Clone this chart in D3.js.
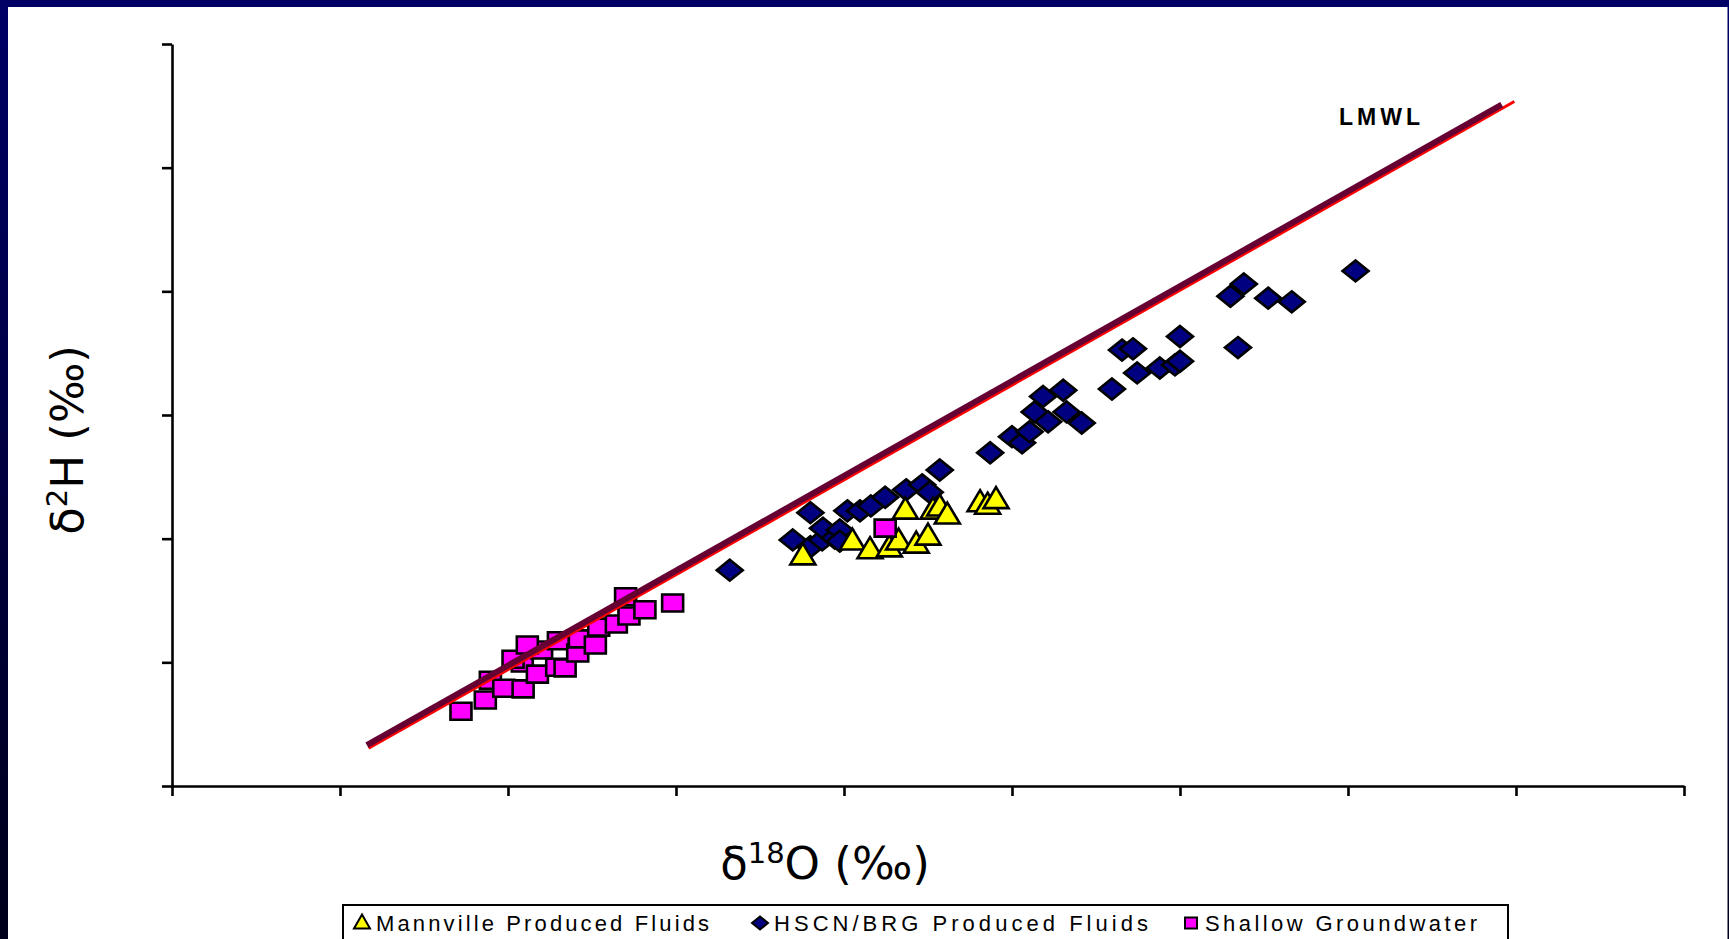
<!DOCTYPE html>
<html>
<head>
<meta charset="utf-8">
<script src="https://cdn.jsdelivr.net/npm/d3@7/dist/d3.min.js"></script>
<style>
  html, body { margin: 0; padding: 0; overflow: hidden; }
  body { width: 1729px; height: 939px; background: linear-gradient(#000066, #00001a); }
  svg { display: block; }
</style>
</head>
<body>
<div class="svg-container"></div>
<script>
// axis ticks (no labels on the original)
const xTicks = [-26, -24, -22, -20, -18, -16, -14, -12, -10, -8];
const yTicks = [-180, -160, -140, -120, -100, -80, -60];

// [d18O, d2H]
const mannville = [
  [-18.49, -142.8], [-17.90, -140.4], [-17.69, -141.8], [-17.46, -141.5], [-17.35, -140.4],
  [-17.27, -135.4], [-17.14, -140.9], [-17.00, -139.6], [-16.94, -135.4], [-16.86, -134.9],
  [-16.77, -136.2], [-16.38, -134.2], [-16.29, -134.6], [-16.19, -133.7]
];
const hscn = [
  [-19.36, -145.1], [-18.61, -140.2], [-18.40, -135.8], [-18.40, -141.3], [-18.26, -140.2],
  [-18.25, -138.3], [-18.11, -139.9], [-18.05, -138.6], [-18.05, -140.4], [-17.96, -135.5],
  [-17.81, -135.5], [-17.68, -134.7], [-17.51, -133.3], [-17.26, -132.1], [-17.07, -131.3],
  [-16.98, -132.5], [-16.86, -128.9], [-16.26, -126.1], [-16.00, -123.5], [-15.88, -124.5],
  [-15.79, -122.7], [-15.73, -119.5], [-15.63, -117.0], [-15.57, -121.1], [-15.39, -116.0],
  [-15.35, -119.5], [-15.17, -121.3], [-14.81, -115.8], [-14.69, -109.5], [-14.56, -109.3],
  [-14.51, -113.2], [-14.24, -112.4], [-14.06, -111.9], [-14.00, -111.3], [-14.00, -107.3],
  [-13.31, -109.1], [-13.40, -100.8], [-13.24, -98.8], [-12.95, -101.1], [-12.67, -101.7],
  [-11.91, -96.7]
];
const shallow = [
  [-22.56, -167.9], [-22.27, -166.1], [-22.21, -162.9], [-22.05, -164.2], [-21.82, -164.3],
  [-21.83, -160.1], [-21.94, -159.5], [-21.65, -161.9], [-21.60, -158.0], [-21.77, -157.2],
  [-21.42, -160.8], [-21.32, -160.9], [-21.40, -156.5], [-21.17, -158.5], [-21.15, -156.2],
  [-20.96, -157.2], [-20.92, -154.3], [-20.71, -153.8], [-20.60, -149.4], [-20.56, -152.5],
  [-20.37, -151.5], [-20.04, -150.4], [-17.51, -138.3]
];
// local meteoric water line and its trendline
const lmwl = [[-23.68, -173.4], [-10.17, -69.8]];
const lmwlTrend = [[-23.66, -173.9], [-10.02, -69.3]];

const legendLabels = ["Mannville Produced Fluids", "HSCN/BRG Produced Fluids", "Shallow Groundwater"];

const W = 1729, H = 939;
const margin = {top: 44, right: 45, bottom: 153, left: 172};
const width = W - margin.left - margin.right;
const height = H - margin.top - margin.bottom;

const svg = d3.select('.svg-container')
  .append('svg')
  .attr('width', W)
  .attr('height', H);

// white slide area inside the navy frame
svg.append('rect')
  .attr('x', 8).attr('y', 7)
  .attr('width', 1719.5).attr('height', H - 7)
  .attr('fill', '#fff');

const g = svg.append('g')
  .attr('transform', `translate(${margin.left}, ${margin.top})`);

const x = d3.scaleLinear().domain([-26, -8]).range([0, width]);
const y = d3.scaleLinear().domain([-180, -60]).range([height, 0]);

// axes, ticks only
const xAxis = g.append('g')
  .attr('transform', `translate(0, ${height})`)
  .call(d3.axisBottom(x).tickValues(xTicks).tickSize(10).tickSizeOuter(0).tickFormat(''));
const yAxis = g.append('g')
  .call(d3.axisLeft(y).tickValues(yTicks).tickSize(10).tickSizeOuter(0).tickFormat(''));
[xAxis, yAxis].forEach(a => {
  a.selectAll('path, line').attr('stroke', '#000').attr('stroke-width', 2.6);
});

// marker shapes (w x h)
function diamond(w, h) { return `M0,${-h/2}L${w/2},0L0,${h/2}L${-w/2},0Z`; }
function square(w, h) { return `M${-w/2},${-h/2}h${w}v${h}h${-w}Z`; }
function triangle(w, h) { return `M0,${-h*0.6}L${w/2},${h*0.4}L${-w/2},${h*0.4}Z`; }

function drawSeries(data, shape, fill) {
  g.append('g')
    .selectAll('path')
    .data(data)
    .enter().append('path')
      .attr('transform', d => `translate(${x(d[0])}, ${y(d[1])})`)
      .attr('d', shape)
      .attr('fill', fill)
      .attr('stroke', '#000')
      .attr('stroke-width', 2.6)
      .attr('stroke-linejoin', 'miter');
}

drawSeries(hscn, diamond(26, 21), '#000080');
drawSeries(mannville, triangle(25, 21), '#ffff00');
drawSeries(shallow, square(21, 17), '#ff00ff');

const line = d3.line().x(d => x(d[0])).y(d => y(d[1]));
g.append('path')
  .attr('d', line(lmwlTrend))
  .attr('fill', 'none')
  .attr('stroke', '#ff0000')
  .attr('stroke-width', 3);
g.append('path')
  .attr('d', line(lmwl))
  .attr('fill', 'none')
  .attr('stroke', '#660033')
  .attr('stroke-width', 6);

svg.append('text')
  .attr('x', 1339).attr('y', 125)
  .style('font', 'bold 23px "Liberation Sans", Arial, sans-serif')
  .style('letter-spacing', '4px')
  .attr('fill', '#000')
  .text('LMWL');

// axis titles
const titleFont = '45px "DejaVu Sans", sans-serif';
const xt = svg.append('text')
  .attr('x', 825).attr('y', 879)
  .attr('text-anchor', 'middle')
  .style('font', titleFont);
xt.append('tspan').text('\u03b4');
xt.append('tspan').attr('dy', -16).style('font-size', '29px').text('18');
xt.append('tspan').attr('dy', 16).text('O (\u2030)');

const yt = svg.append('text')
  .attr('transform', 'translate(83, 440) rotate(-90)')
  .attr('text-anchor', 'middle')
  .style('font', titleFont);
yt.append('tspan').text('\u03b4');
yt.append('tspan').attr('dy', -16).style('font-size', '29px').text('2');
yt.append('tspan').attr('dy', 16).text('H (\u2030)');

// legend
const lg = svg.append('g');
lg.append('rect')
  .attr('x', 343).attr('y', 905)
  .attr('width', 1165).attr('height', 40)
  .attr('fill', '#fff')
  .attr('stroke', '#000')
  .attr('stroke-width', 2);

const legendShapes = [triangle(16, 14), diamond(16, 13), square(12, 11)];
const legendFills = ['#ffff00', '#000080', '#ff00ff'];
const legendX = [362, 760, 1191];
const legendLen = [333, 374, 272];
legendLabels.forEach((lab, i) => {
  lg.append('path')
    .attr('transform', `translate(${legendX[i]}, 923)`)
    .attr('d', legendShapes[i])
    .attr('fill', legendFills[i])
    .attr('stroke', '#000')
    .attr('stroke-width', 2);
  lg.append('text')
    .attr('x', legendX[i] + 14).attr('y', 931)
    .attr('textLength', legendLen[i])
    .attr('lengthAdjust', 'spacing')
    .style('font', '22px "Liberation Sans", Arial, sans-serif')
    .text(lab);
});
</script>
</body>
</html>
